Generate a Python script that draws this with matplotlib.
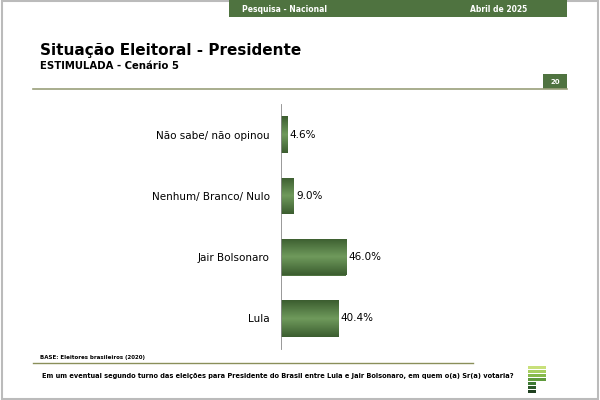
import numpy as np
import matplotlib.pyplot as plt
from matplotlib.colors import LinearSegmentedColormap
from matplotlib.patches import Rectangle

categories = ["Lula", "Jair Bolsonaro", "Nenhum/ Branco/ Nulo", "Não sabe/ não opinou"]
values = [40.4, 46.0, 9.0, 4.6]

GREEN = "#4f7340"
fig = plt.figure(figsize=(6, 4), dpi=100)
fig.patch.set_facecolor("white")

# page frame and header
fig.add_artist(Rectangle((0.003, 0.003), 0.994, 0.994, transform=fig.transFigure,
                         fill=False, edgecolor="#bbbbbb", lw=1.5))
fig.add_artist(Rectangle((229/600, 1 - 17/400), 338/600, 17/400, transform=fig.transFigure,
                         facecolor=GREEN, edgecolor="none"))
fig.text(242/600, 1 - 9/400, "Pesquisa - Nacional", color="white", fontsize=5.5,
         fontweight="bold", va="center")
fig.text(470/600, 1 - 9/400, "Abril de 2025", color="white", fontsize=5.5,
         fontweight="bold", va="center")
fig.text(40/600, 1 - 51/400, "Situação Eleitoral - Presidente", fontsize=11,
         fontweight="bold", va="center")
fig.text(40/600, 1 - 66/400, "ESTIMULADA - Cenário 5", fontsize=7.3,
         fontweight="bold", va="center")
fig.add_artist(Rectangle((543/600, 1 - 89/400), 24/600, 15/400, transform=fig.transFigure,
                         facecolor=GREEN, edgecolor="none"))
fig.text(555/600, 1 - 81.5/400, "20", color="white", fontsize=5, fontweight="bold",
         ha="center", va="center")
fig.add_artist(plt.Line2D([33/600, 567/600], [1 - 89/400] * 2, transform=fig.transFigure,
                          color="#9aa07a", lw=1.2))

# footer
fig.text(40/600, 1 - 357/400, "BASE: Eleitores brasileiros (2020)", fontsize=4, fontweight="bold",
         va="center")
fig.add_artist(plt.Line2D([33/600, 473/600], [1 - 363/400] * 2, transform=fig.transFigure,
                          color="#8a8f5a", lw=1))
fig.text(42/600, 1 - 376/400,
         "Em um eventual segundo turno das eleições para Presidente do Brasil entre Lula e Jair Bolsonaro, em quem o(a) Sr(a) votaria?",
         fontsize=4.8, fontweight="bold", va="center")
logo_cols = ["#c8e07a", "#a8cf60", "#86b94a", "#5f9a3c", "#3e7a34", "#2d5a2a", "#1f3f1f"]
for k, c in enumerate(logo_cols):
    w = 18 if k < 4 else 8
    fig.add_artist(Rectangle((528/600, 1 - (369 + k * 4)/400), w/600, 3.2/400,
                             transform=fig.transFigure, facecolor=c, edgecolor="none"))

# chart
ax = fig.add_axes([281/600, 51/400, 180/600, 245/400])
cmap = LinearSegmentedColormap.from_list("g", ["#3c5e30", "#6f9a5c", "#3c5e30"])
grad = np.linspace(0, 1, 50).reshape(-1, 1)
for i, v in enumerate(values):
    bar = ax.barh(i, v, height=0.6, color=GREEN)[0]
    im = ax.imshow(grad, cmap=cmap, extent=[0, v, i - 0.3, i + 0.3], aspect="auto", zorder=2)
    im.set_clip_path(bar)
    ax.text(v + 1.5, i, f"{v:.1f}%", va="center", fontsize=7.5)
ax.set_xlim(0, 127)
ax.set_ylim(-0.5, 3.5)
ax.set_yticks(range(len(categories)))
ax.set_yticklabels(categories, fontsize=7.5)
ax.tick_params(axis="y", length=0, pad=8)
ax.set_xticks([])
for s in ["top", "right", "bottom"]:
    ax.spines[s].set_visible(False)
ax.spines["left"].set_color("#888888")
ax.spines["left"].set_linewidth(0.6)

fig.savefig("out.png", dpi=100)
